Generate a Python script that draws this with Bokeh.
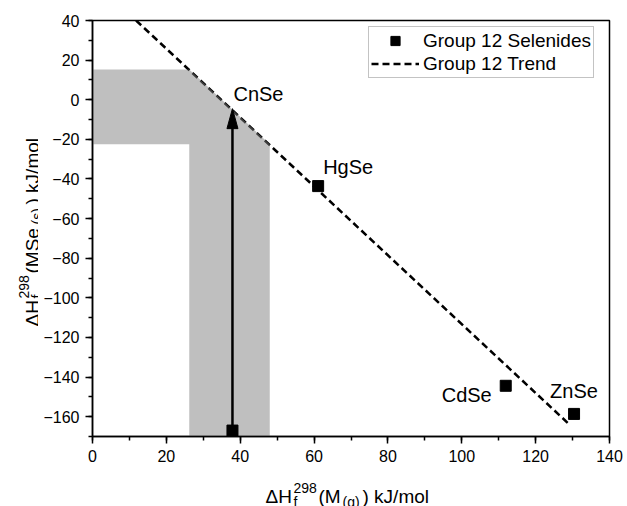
import numpy as np
from bokeh.plotting import figure
from bokeh.layouts import row, column
from bokeh.models import (Range1d, FixedTicker, Label, Legend, LegendItem, ColumnDataSource)
from bokeh.embed import file_html
from bokeh.resources import INLINE

# ---------------- data ----------------
names = ["ZnSe", "CdSe", "HgSe"]
dh_metal_gas = [130.4, 111.9, 61.1]          # ΔHf298(M(g)) kJ/mol
dh_selenide = [-158.6, -144.4, -43.6]        # ΔHf298(MSe(s)) kJ/mol

trend_x = [11.8, 128.9]
trend_y = [40.0, -163.5]

cn_name = "CnSe"
cn_metal_gas = 37.9
cn_start = -167.0
cn_predicted = -4.5
cn_metal_gas_range = [26.2, 48.0]
cn_predicted_range = [-22.5, 15.3]

x_ticks = [0, 20, 40, 60, 80, 100, 120, 140]
y_ticks = [-160, -140, -120, -100, -80, -60, -40, -20, 0, 20, 40]

# ---------------- geometry ----------------
W, H = 627, 506
YT_W = 38          # width of the y-title strip
XT_H = 30          # height of the x-title strip
MW, MH = W - YT_W, H - XT_H
BL, BR, BT, BB = 92 - YT_W, 18, 20, 40
X0, X1 = 0, 140
Y0, Y1 = -170, 40
fw, fh = MW - BL - BR, MH - BT - BB
ppx = fw / (X1 - X0)
ppy = fh / (Y1 - Y0)

FONT = "Liberation Sans"

p = figure(width=MW, height=MH, output_backend="svg", toolbar_location=None, title=None,
           x_range=Range1d(X0, X1), y_range=Range1d(Y0, Y1), frame_align=False,
           min_border_left=BL, min_border_right=BR, min_border_top=BT, min_border_bottom=BB)
p.xgrid.visible = False
p.ygrid.visible = False
p.outline_line_color = "black"
p.outline_line_width = 1.5
p.background_fill_color = "white"
p.border_fill_color = "white"

for ax, ticks, minor in ((p.xaxis[0], x_ticks, list(range(0, 141, 10))),
                         (p.yaxis[0], y_ticks, list(range(-170, 41, 10)))):
    ax.ticker = FixedTicker(ticks=ticks, minor_ticks=minor)
    ax.axis_line_width = 1.5
    ax.major_tick_line_width = 1.5
    ax.minor_tick_line_width = 1.5
    ax.major_tick_out = 7
    ax.major_tick_in = 0
    ax.minor_tick_out = 4
    ax.minor_tick_in = 0
    ax.major_label_text_font = FONT
    ax.major_label_text_font_size = "16px"
    ax.major_label_text_color = "black"
    ax.major_label_standoff = 6
    ax.axis_label = None

# trend line
trend = p.line(trend_x, trend_y, line_color="black", line_width=2.5, line_dash="7 4")

# uncertainty band (drawn over the trend line, semi-transparent)
lo_x, hi_x = cn_metal_gas_range
lo_y, hi_y = cn_predicted_range
band_x = [X0, lo_x, hi_x, hi_x, lo_x, lo_x, X0]
band_y = [hi_y, hi_y, lo_y, Y0, Y0, lo_y, lo_y]
p.patch(band_x, band_y, fill_color="#808080", fill_alpha=0.5, line_alpha=0)

# selenides
src = ColumnDataSource(dict(x=dh_metal_gas, y=dh_selenide, name=names))
pts = p.scatter("x", "y", source=src, marker="square", size=11, color="black")
p.scatter([cn_metal_gas], [cn_start], marker="square", size=11, color="black")

# arrow
head_len = 20 / ppy
head_half = 5.5 / ppx
p.segment(x0=[cn_metal_gas], y0=[cn_start], x1=[cn_metal_gas], y1=[cn_predicted - head_len + 1 / ppy],
          line_color="black", line_width=2.5)
p.patch([cn_metal_gas, cn_metal_gas - head_half, cn_metal_gas + head_half],
        [cn_predicted, cn_predicted - head_len, cn_predicted - head_len],
        fill_color="black", line_color="black", line_width=1)

# point labels (pixel offsets from each point)
offsets = {"ZnSe": (-24, 23, "left"), "CdSe": (-14, -9, "right"), "HgSe": (5, 19, "left")}
for n, x, y in zip(names, dh_metal_gas, dh_selenide):
    dx, dy, al = offsets[n]
    p.add_layout(Label(x=x + dx / ppx, y=y + dy / ppy, text=n, text_font=FONT,
                       text_font_size="20px", text_align=al, text_baseline="alphabetic",
                       text_color="black"))
p.add_layout(Label(x=cn_metal_gas + 1 / ppx, y=cn_predicted + 15 / ppy, text=cn_name,
                   text_font=FONT, text_font_size="20px", text_align="left",
                   text_baseline="alphabetic", text_color="black"))

# legend
legend = Legend(items=[LegendItem(label="Group 12 Selenides", renderers=[pts]),
                       LegendItem(label="Group 12 Trend", renderers=[trend])],
                location=(276, 358))
legend.label_text_font = FONT
legend.label_text_font_size = "19px"
legend.label_text_color = "black"
legend.glyph_width = 48
legend.glyph_height = 23
legend.label_height = 23
legend.label_standoff = 4
legend.padding = 2
legend.spacing = 0
legend.margin = 0
legend.border_line_color = "#888888"
legend.border_line_width = 1
legend.background_fill_color = "white"
legend.background_fill_alpha = 1
p.add_layout(legend)

# ---------------- axis titles (sub/superscripts) in their own strips ----------------
def strip(w, h):
    f = figure(width=w, height=h, output_backend="svg", toolbar_location=None, title=None,
               x_range=Range1d(0, w), y_range=Range1d(0, h), frame_align=False,
               x_axis_type=None, y_axis_type=None,
               min_border_left=0, min_border_right=0, min_border_top=0, min_border_bottom=0)
    f.xgrid.visible = False
    f.ygrid.visible = False
    f.outline_line_color = None
    f.background_fill_color = "white"
    f.border_fill_color = "white"
    return f

xt = strip(W, XT_H)
yt = strip(YT_W, MH)

def piece(f, x, y, txt, size, angle=0.0):
    f.add_layout(Label(x=x, y=y, text=txt, text_font=FONT, text_font_size=size,
                       text_align="left", text_baseline="alphabetic", angle=angle,
                       text_color="black"))

# x title: ΔH_f^298(M_(g)) kJ/mol  (strip y measured from strip bottom)
xb = 10
piece(xt, 265, xb, "ΔH", "19px")
piece(xt, 293, xb + 9, "298", "14px")
piece(xt, 293, xb - 5, "f", "14px")
piece(xt, 318, xb, "(M", "19px")
piece(xt, 342, xb - 5, "(g)", "14px")
piece(xt, 362, xb, ") kJ/mol", "19px")

# y title (rotated): ΔH_f^298(MSe_(s)) kJ/mol  (page y -> strip y = MH - page_y)
a = np.pi / 2
base = 32
s0 = 326
piece(yt, base, MH - s0, "ΔH", "19px", a)
piece(yt, base - 9, MH - (s0 - 28), "298", "14px", a)
piece(yt, base + 4, MH - (s0 - 28), "f", "14px", a)
piece(yt, base, MH - (s0 - 53), "(MSe", "19px", a)
piece(yt, base + 4, MH - (s0 - 102), "(s)", "14px", a)
piece(yt, base, MH - (s0 - 122), ") kJ/mol", "19px", a)

layout = column(row(yt, p, spacing=0), xt, spacing=0)
open("out.html", "w").write(file_html(layout, INLINE))
